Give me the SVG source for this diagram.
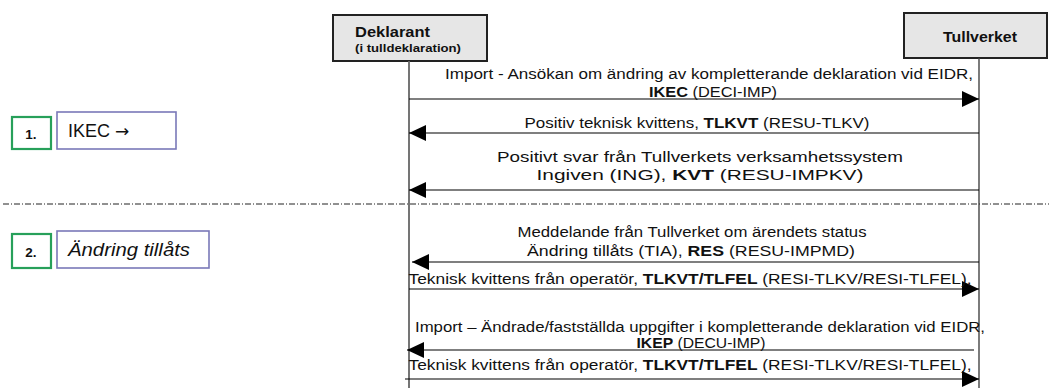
<svg xmlns="http://www.w3.org/2000/svg" width="1049" height="388" viewBox="0 0 1049 388">
<style>
text{font-family:"Liberation Sans",Arial,sans-serif;fill:#111}
.msg{font-size:15.5px;text-anchor:middle}
.b{font-weight:bold}
.hdr{fill:#e6e6e6;stroke:#222;stroke-width:2}
.life{stroke:#444;stroke-width:1.4;fill:none}
.arr{stroke:#000;stroke-width:1.2;fill:none;marker-end:url(#ah)}
.num{fill:#fff;stroke:#27a05a;stroke-width:2.2}
.lab{fill:#fff;stroke:#7a78b8;stroke-width:1.6}
</style>
<defs>
<marker id="ah" markerUnits="userSpaceOnUse" markerWidth="17" markerHeight="16" refX="17" refY="8" orient="auto">
<path d="M0,0 L17,8 L0,16 z" fill="#000"/>
</marker>
</defs>
<g id="deklarant">
<rect class="hdr" x="333" y="15" width="154" height="46"/>
<text x="355" y="37" style="font-size:15px;font-weight:bold" textLength="75" lengthAdjust="spacingAndGlyphs">Deklarant</text>
<text x="355" y="52" style="font-size:11.5px;font-weight:bold" textLength="106" lengthAdjust="spacingAndGlyphs">(i tulldeklaration)</text>
</g>
<g id="tullverket">
<rect class="hdr" x="904" y="13" width="143" height="45"/>
<text x="980" y="42" style="font-size:14px;font-weight:bold;text-anchor:middle" textLength="74" lengthAdjust="spacingAndGlyphs">Tullverket</text>
</g>
<g id="lifelines">
<line class="life" x1="409" y1="61" x2="409" y2="388" style="stroke:#666;stroke-width:1.8"/>
<line class="life" x1="979" y1="58" x2="979" y2="388"/>
</g>
<g id="separator">
<line x1="3" y1="204" x2="1049" y2="204" stroke="#222" stroke-width="1" stroke-dasharray="6 2 1 2"/>
</g>
<g id="step1">
<rect class="num" x="12" y="117" width="39" height="32"/>
<text x="31" y="139" style="font-size:13.5px;font-weight:bold;text-anchor:middle">1.</text>
<rect class="lab" x="57" y="112" width="119" height="37"/>
<text x="68" y="137" style="font-size:18px">IKEC <tspan style="font-family:'DejaVu Sans',sans-serif;font-size:17px">→</tspan></text>
</g>
<g id="step2">
<rect class="num" x="12" y="234" width="39" height="34"/>
<text x="31" y="257" style="font-size:13.5px;font-weight:bold;text-anchor:middle">2.</text>
<rect class="lab" x="57" y="231" width="152" height="37"/>
<text x="68" y="256" style="font-size:18.5px;font-style:italic" textLength="122" lengthAdjust="spacingAndGlyphs">Ändring tillåts</text>
</g>
<g id="connectors">
<line class="arr" x1="409" y1="99" x2="979" y2="99"/>
<line class="arr" x1="979" y1="133" x2="409" y2="133"/>
<line class="arr" x1="979" y1="190" x2="409" y2="190"/>
<line class="arr" x1="979" y1="262" x2="412" y2="262"/>
<line class="arr" x1="409" y1="289" x2="979" y2="289"/>
<line class="arr" x1="974" y1="350" x2="407" y2="350"/>
<line class="arr" x1="405" y1="379" x2="979" y2="379"/>
</g>
<g id="labels">
<text class="msg" x="709" y="79" textLength="528" lengthAdjust="spacingAndGlyphs">Import - Ansökan om ändring av kompletterande deklaration vid EIDR,</text>
<text class="msg" x="713" y="97" textLength="128" lengthAdjust="spacingAndGlyphs"><tspan class="b">IKEC</tspan> (DECI-IMP)</text>
<text class="msg" x="697" y="128" textLength="345" lengthAdjust="spacingAndGlyphs">Positiv teknisk kvittens, <tspan class="b">TLKVT</tspan> (RESU-TLKV)</text>
<text class="msg" x="700" y="162" textLength="406" lengthAdjust="spacingAndGlyphs">Positivt svar från Tullverkets verksamhetssystem</text>
<text class="msg" x="700" y="180" textLength="327" lengthAdjust="spacingAndGlyphs">Ingiven (ING), <tspan class="b">KVT</tspan> (RESU-IMPKV)</text>
<text class="msg" x="692" y="237" textLength="349" lengthAdjust="spacingAndGlyphs">Meddelande från Tullverket om ärendets status</text>
<text class="msg" x="691" y="256" textLength="328" lengthAdjust="spacingAndGlyphs">Ändring tillåts (TIA), <tspan class="b">RES</tspan> (RESU-IMPMD)</text>
<text class="msg" x="690" y="284" textLength="563" lengthAdjust="spacingAndGlyphs">Teknisk kvittens från operatör, <tspan class="b">TLKVT/TLFEL</tspan> (RESI-TLKV/RESI-TLFEL),</text>
<text class="msg" x="700" y="332" textLength="570" lengthAdjust="spacingAndGlyphs">Import – Ändrade/fastställda uppgifter i kompletterande deklaration vid EIDR,</text>
<text class="msg" x="701" y="348" textLength="129" lengthAdjust="spacingAndGlyphs"><tspan class="b">IKEP</tspan> (DECU-IMP)</text>
<text class="msg" x="690" y="370" textLength="563" lengthAdjust="spacingAndGlyphs">Teknisk kvittens från operatör, <tspan class="b">TLKVT/TLFEL</tspan> (RESI-TLKV/RESI-TLFEL),</text>
</g>
</svg>
